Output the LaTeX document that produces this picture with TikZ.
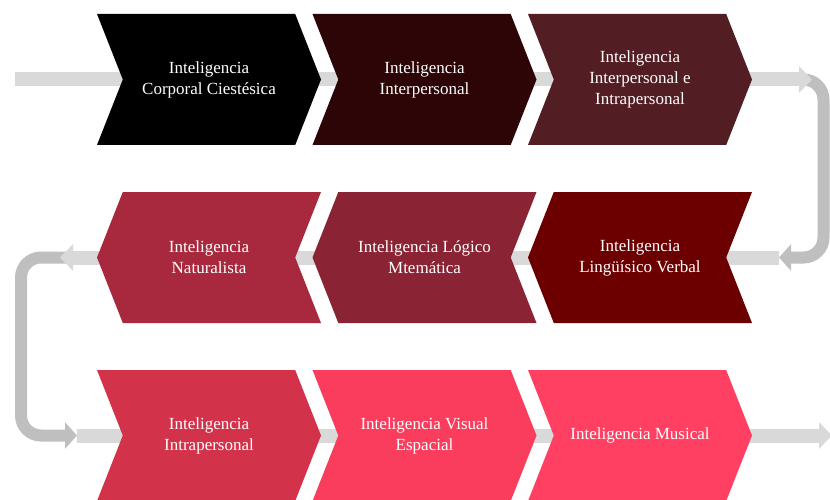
\documentclass[tikz,border=0pt]{standalone}
\usepackage{fontspec}
\setmainfont{Liberation Serif}
\usepackage{tikz}
\usetikzlibrary{arrows.meta,positioning,shapes.symbols,backgrounds}
\definecolor{intA}{HTML}{000000}
\definecolor{intB}{HTML}{2D0506}
\definecolor{intC}{HTML}{521E24}
\definecolor{intD}{HTML}{6C0000}
\definecolor{intE}{HTML}{8A2434}
\definecolor{intF}{HTML}{A8293E}
\definecolor{intG}{HTML}{D3324B}
\definecolor{intH}{HTML}{FA3C5D}
\definecolor{intI}{HTML}{FF4062}
\definecolor{trackgray}{HTML}{D9D9D9}
\definecolor{bendgray}{HTML}{BFBFBF}

\begin{document}
\begin{tikzpicture}[
  x=1pt,y=-1pt,
  node distance=178pt and 215.5pt,on grid,
  chev/.style={signal,signal pointer angle=137,minimum width=224pt,
               minimum height=131pt,inner sep=0pt,text=white,
               font=\fontsize{17}{21}\selectfont,align=center},
  fwd/.style={chev,signal from=west,signal to=east},
  rev/.style={chev,signal from=east,signal to=west},
  track/.style={draw=trackgray,line width=14pt,
                -{Triangle[width=26pt,length=13pt]}},
  bendarrow/.style={draw=bendgray,line width=12pt,rounded corners=20pt,
                    -{Triangle[width=26pt,length=12pt]}},
]

\useasboundingbox (0,0) rectangle (830,500);

\node[fwd,fill=intA] (corporal) at (209,79.5) {Inteligencia\\Corporal Ciestésica};
\node[fwd,fill=intB,right=of corporal] (interp) {Inteligencia\\Interpersonal};
\node[fwd,fill=intC,right=of interp] (interintra) {Inteligencia\\Interpersonal e\\Intrapersonal};
\node[rev,fill=intD,below=of interintra] (linguistico) {Inteligencia\\Lingüísico Verbal};
\node[rev,fill=intE,left=of linguistico] (logico) {Inteligencia Lógico\\Mtemática};
\node[rev,fill=intF,left=of logico] (natural) {Inteligencia\\Naturalista};
\node[fwd,fill=intG,below=of natural] (intrap) {Inteligencia\\Intrapersonal};
\node[fwd,fill=intH,right=of intrap] (visual) {Inteligencia Visual\\Espacial};
\node[fwd,fill=intI,right=of visual] (musical) {Inteligencia Musical};

\coordinate[left=194pt of corporal] (in1);
\coordinate[right=172pt of interintra] (out1);
\coordinate[right=139pt of linguistico] (in2);
\coordinate[left=149pt of natural] (out2);
\coordinate[left=132pt of intrap] (in3);
\coordinate[right=192pt of musical] (out3);
\coordinate[right=158pt of interintra] (turn1);
\coordinate[right=183.5pt of interintra] (side1);
\coordinate[left=137pt of natural] (turn2);
\coordinate[left=188pt of natural] (side2);

\begin{scope}[on background layer]
\draw[bendarrow] (turn1) -- (side1) |- (in2);
\draw[bendarrow] (turn2) -- (side2) |- (in3);
\draw[track] (in1) -- (out1);
\draw[track] (in2) -- (out2);
\draw[track] (in3) -- (out3);
\end{scope}

\end{tikzpicture}
\end{document}
